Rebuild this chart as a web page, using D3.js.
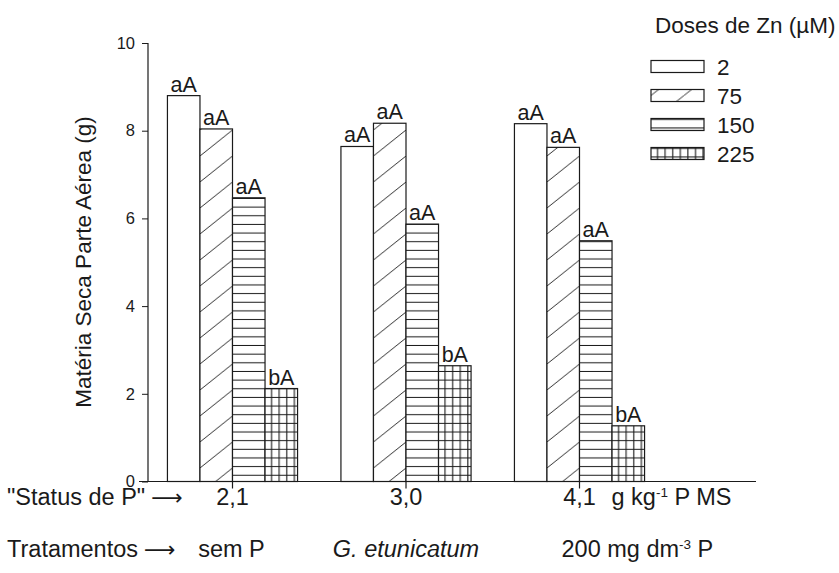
<!DOCTYPE html>
<html>
<head>
<meta charset="utf-8">
<script src="https://cdn.jsdelivr.net/npm/d3@7"></script>
<style>
  html, body { margin: 0; padding: 0; background: #fff; }
  svg text { font-family: "Liberation Sans", Arial, Helvetica, sans-serif; fill: #1a1a1a; }
</style>
</head>
<body>
<svg id="chart" width="839" height="573"></svg>
<script>
// ---- data ----
const treatments = ["sem P", "G. etunicatum", "200 mg dm-3 P"];
const statusP = ["2,1", "3,0", "4,1"];
const doses = ["2", "75", "150", "225"];
const dose2   = [8.80, 7.64, 8.16];
const dose75  = [8.04, 8.17, 7.62];
const dose150 = [6.47, 5.87, 5.49];
const dose225 = [2.12, 2.64, 1.27];
const letters2   = ["aA", "aA", "aA"];
const letters75  = ["aA", "aA", "aA"];
const letters150 = ["aA", "aA", "aA"];
const letters225 = ["bA", "bA", "bA"];
const yTicks = [0, 2, 4, 6, 8, 10];

const seriesValues = [dose2, dose75, dose150, dose225];
const seriesLetters = [letters2, letters75, letters150, letters225];

// ---- layout ----
const svg = d3.select("#chart");
const ink = "#1a1a1a";
const axisX = 148;
const FS = 22.5;   // legend / axis title
const FB = 23.5;   // bottom rows

const y = d3.scaleLinear().domain([0, 10]).range([481.5, 43]);
const x0 = d3.scaleBand().domain(treatments).range([145.75, 666.25])
  .paddingInner(0.25).paddingOuter(0.125);
const x1 = d3.scaleBand().domain(doses).range([0, x0.bandwidth()]).padding(0);
const bw = x1.bandwidth();
const gc = i => x0(treatments[i]) + x0.bandwidth() / 2;

// ---- patterns ----
const defs = svg.append("defs");
function makePatterns(prefix, w, hOff) {
  const pd = defs.append("pattern").attr("id", prefix + "diag")
    .attr("patternUnits", "userSpaceOnUse").attr("width", w).attr("height", 26);
  pd.append("rect").attr("width", w).attr("height", 26).attr("fill", "#fff");
  pd.append("line").attr("x1", 0).attr("y1", 26).attr("x2", w).attr("y2", 0)
    .attr("stroke", ink).attr("stroke-width", 0.9);
  const ph = defs.append("pattern").attr("id", prefix + "horiz")
    .attr("patternUnits", "userSpaceOnUse").attr("width", 10).attr("height", 8.65);
  ph.append("rect").attr("width", 10).attr("height", 8.65).attr("fill", "#fff");
  ph.append("line").attr("x1", 0).attr("y1", hOff).attr("x2", 10).attr("y2", hOff)
    .attr("stroke", ink).attr("stroke-width", 1.1);
  const pg = defs.append("pattern").attr("id", prefix + "grid")
    .attr("patternUnits", "userSpaceOnUse").attr("width", 7.6).attr("height", 8.65);
  pg.append("rect").attr("width", 7.6).attr("height", 8.65).attr("fill", "#fff");
  pg.append("line").attr("x1", 0).attr("y1", hOff).attr("x2", 7.6).attr("y2", hOff)
    .attr("stroke", ink).attr("stroke-width", 1.1);
  pg.append("line").attr("x1", 6.5).attr("y1", 0).attr("x2", 6.5).attr("y2", 8.65)
    .attr("stroke", ink).attr("stroke-width", 1.1);
}
makePatterns("bar-", bw, 8.2);
makePatterns("leg-", 33, 3.5);
const fills = ["#fff", "diag", "horiz", "grid"];
function fillFor(i, prefix) {
  return i === 0 ? "#fff" : `url(#${prefix}${fills[i]})`;
}

// ---- bars ----
const barData = [];
treatments.forEach((t, gi) => {
  doses.forEach((d, si) => {
    barData.push({ t, d, si, v: seriesValues[si][gi], lab: seriesLetters[si][gi] });
  });
});

const bars = svg.append("g").selectAll("g.bar").data(barData).join("g")
  .attr("class", "bar")
  .attr("transform", b => `translate(${x0(b.t) + x1(b.d)},0)`);
bars.append("rect")
  .attr("x", 0).attr("width", bw)
  .attr("y", b => y(b.v)).attr("height", b => y(0) - y(b.v))
  .attr("fill", b => fillFor(b.si, "bar-"))
  .attr("stroke", ink).attr("stroke-width", 1.2);
bars.append("text")
  .attr("x", bw / 2).attr("y", b => y(b.v) - 4)
  .attr("text-anchor", "middle").attr("font-size", 21.5)
  .text(b => b.lab);

// ---- axes ----
const yAxis = d3.axisLeft(y).tickValues(yTicks).tickSize(6).tickPadding(7)
  .tickFormat(d3.format("d"));
const gy = svg.append("g").attr("transform", `translate(${axisX},0)`).call(yAxis);
gy.select(".domain").attr("stroke", ink).attr("stroke-width", 1.2)
  .attr("d", `M0,${y(10)}V${y(0)}`);
gy.selectAll(".tick line").attr("stroke", ink);
gy.selectAll(".tick text").attr("font-size", 16.5).attr("fill", ink)
  .attr("font-family", "Liberation Sans, Arial, sans-serif");

// baseline
svg.append("line").attr("x1", 139).attr("x2", 756)
  .attr("y1", y(0)).attr("y2", y(0)).attr("stroke", ink).attr("stroke-width", 1.2);
// category ticks
svg.append("g").selectAll("line").data(treatments).join("line")
  .attr("x1", (t, i) => gc(i)).attr("x2", (t, i) => gc(i))
  .attr("y1", y(0)).attr("y2", y(0) + 7).attr("stroke", ink).attr("stroke-width", 1.2);

// y title
svg.append("text")
  .attr("transform", "translate(91,262) rotate(-90)")
  .attr("text-anchor", "middle").attr("font-size", FS)
  .text("Matéria Seca Parte Aérea (g)");

// ---- bottom labels ----
const row1 = 505, row2 = 557;
const arrow = (sel) => sel.append("tspan")
  .attr("font-family", "DejaVu Sans").attr("font-size", 22).attr("dx", 6).text("\u27F6");
const s1 = svg.append("text").attr("x", 7).attr("y", row1).attr("font-size", FB);
s1.append("tspan").text("\"Status de P\"");
arrow(s1);
const s2 = svg.append("text").attr("x", 7).attr("y", row2).attr("font-size", FB);
s2.append("tspan").text("Tratamentos");
arrow(s2);

svg.append("g").selectAll("text").data(statusP).join("text")
  .attr("x", (s, i) => gc(i))
  .attr("y", row1).attr("text-anchor", "middle").attr("font-size", FB)
  .text(s => s);
const unit = svg.append("text")
  .attr("x", gc(2) + 32).attr("y", row1).attr("font-size", FB);
unit.append("tspan").text("g kg");
unit.append("tspan").attr("dy", -8).attr("font-size", 13.5).text("-1");
unit.append("tspan").attr("dy", 8).text(" P MS");

const tr = svg.append("g");
tr.append("text").attr("x", gc(0) - 1).attr("y", row2)
  .attr("text-anchor", "middle").attr("font-size", FB).text(treatments[0]);
tr.append("text").attr("x", gc(1)).attr("y", row2)
  .attr("text-anchor", "middle").attr("font-size", FB).attr("font-style", "italic")
  .text(treatments[1]);
const t3 = tr.append("text").attr("x", gc(2) - 18)
  .attr("y", row2).attr("font-size", FB);
t3.append("tspan").text("200 mg dm");
t3.append("tspan").attr("dy", -8).attr("font-size", 13.5).text("-3");
t3.append("tspan").attr("dy", 8).text(" P");

// ---- legend ----
const leg = svg.append("g");
leg.append("text").attr("x", 655).attr("y", 33).attr("font-size", FS)
  .text("Doses de Zn (\u00B5M)");
const li = leg.selectAll("g.li").data(doses).join("g").attr("class", "li")
  .attr("transform", (d, i) => `translate(651,${66.5 + i * 29})`);
li.append("rect").attr("x", 0).attr("y", -6).attr("width", 53).attr("height", 12)
  .attr("fill", (d, i) => fillFor(i, "leg-"))
  .attr("stroke", ink).attr("stroke-width", 1.2);
li.append("text").attr("x", 66).attr("y", 8).attr("font-size", FS).text(d => d);
</script>
</body>
</html>
